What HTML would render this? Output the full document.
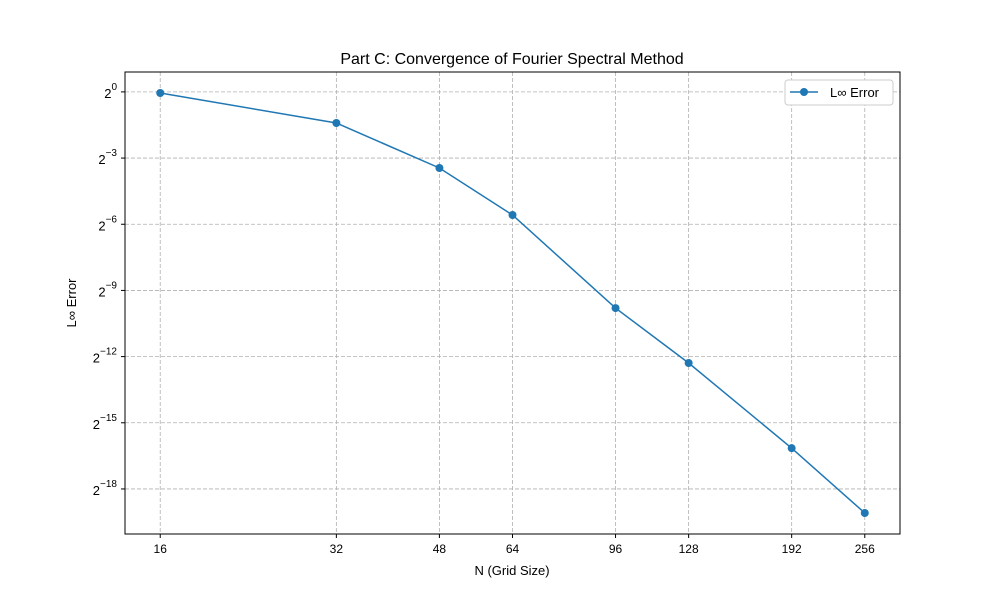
<!DOCTYPE html>
<html><head><meta charset="utf-8"><style>
body{margin:0;background:#fff;font-family:"Liberation Sans","DejaVu Sans",sans-serif;}
</style></head><body>
<svg id="chart" width="1000" height="600" xmlns="http://www.w3.org/2000/svg" font-family="Liberation Sans, DejaVu Sans, sans-serif">
<rect width="1000" height="600" fill="#fff"/>
<text x="512" y="64" font-size="16" text-anchor="middle">Part C: Convergence of Fourier Spectral Method</text>
<g id="grid"></g>
<g id="axes"></g>
<g id="series"></g>
<rect x="125" y="72" width="775" height="462" fill="none" stroke="#000" stroke-width="1"/>
<text x="512" y="575" font-size="13" text-anchor="middle">N (Grid Size)</text>
<text transform="translate(76,303) rotate(-90)" font-size="13" text-anchor="middle">L∞ Error</text>
<g>
<rect x="785" y="80" width="108" height="25" rx="3" fill="#fff" stroke="#ccc"/>
<line x1="790" y1="92" x2="818" y2="92" stroke="#1f77b4" stroke-width="1.5"/>
<circle cx="804" cy="92" r="4" fill="#1f77b4"/>
<text x="830" y="97" font-size="13">L∞ Error</text>
</g>
</svg>
<script>
const nValues=[16,32,48,64,96,128,192,256];
const errors=[Math.pow(2,-0.05),Math.pow(2,-1.41),Math.pow(2,-3.45),Math.pow(2,-5.58),Math.pow(2,-9.80),Math.pow(2,-12.29),Math.pow(2,-16.15),Math.pow(2,-19.09)];
const xTicks=[16,32,48,64,96,128,192,256];
const yTickExps=[0,-3,-6,-9,-12,-15,-18];
const NS='http://www.w3.org/2000/svg';
const L=125,R=900,T=72,B=534;
const lx=nValues.map(v=>Math.log2(v)), ly=errors.map(v=>Math.log2(v));
const xmn=Math.min(...lx),xmx=Math.max(...lx),xm=(xmx-xmn)*0.05;
const ymn=Math.min(...ly),ymx=Math.max(...ly),ym=(ymx-ymn)*0.05;
function X(v){return L+(Math.log2(v)-(xmn-xm))/((xmx+xm)-(xmn-xm))*(R-L);}
function Y(v){return B-(Math.log2(v)-(ymn-ym))/((ymx+ym)-(ymn-ym))*(B-T);}
function mk(tag,attrs,parent){const e=document.createElementNS(NS,tag);for(const k in attrs)e.setAttribute(k,attrs[k]);document.getElementById(parent).appendChild(e);return e;}
xTicks.forEach(t=>{const x=X(t);
 let g=mk('line',{x1:x,x2:x,y1:T,y2:B,stroke:'#b0b0b0','stroke-dasharray':'4,2','stroke-width':0.8},'grid');
 
 
 let tk=mk('line',{x1:x,x2:x,y1:B,y2:B+4,stroke:'#000'},'axes');
 
 
 let tx=mk('text',{x:x,y:B+19,'font-size':12,'text-anchor':'middle'},'axes');tx.textContent=t;
 
 
});
yTickExps.forEach(e=>{const y=Y(Math.pow(2,e));
 let g=mk('line',{x1:L,x2:R,y1:y,y2:y,stroke:'#b0b0b0','stroke-dasharray':'4,2','stroke-width':0.8},'grid');
 
 
 let tk=mk('line',{x1:L-4,x2:L,y1:y,y2:y,stroke:'#000'},'axes');
 
 
 let tx=mk('text',{x:L-8,y:y+6,'font-size':13,'text-anchor':'end'},'axes');
 
 
 const b=document.createElementNS(NS,'tspan');b.textContent='2';tx.appendChild(b);
 const s=document.createElementNS(NS,'tspan');s.setAttribute('dy','-8');s.setAttribute('font-size','10');s.textContent=e===0?'0':'\u2212'+(-e);tx.appendChild(s);
});
const pts=nValues.map((n,i)=>X(n)+','+Y(errors[i])).join(' ');
const pl=mk('polyline',{points:pts,fill:'none',stroke:'#1f77b4','stroke-width':1.5},'series');


nValues.forEach((n,i)=>{const c=mk('circle',{cx:X(n),cy:Y(errors[i]),r:4,fill:'#1f77b4'},'series');
 
 
});
</script>
</body></html>
